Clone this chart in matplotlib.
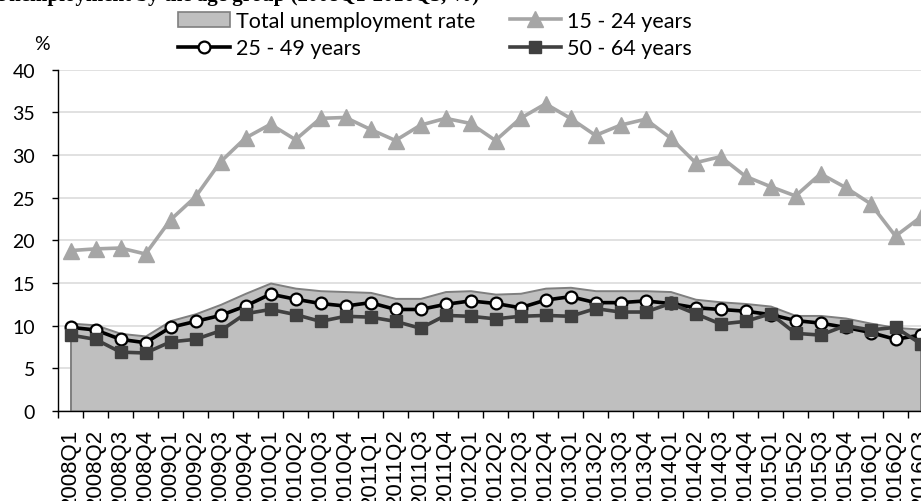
import matplotlib
matplotlib.use("Agg")
import matplotlib.pyplot as plt
from matplotlib.patches import Patch
from matplotlib.lines import Line2D

quarters = [f"{y}Q{q}" for y in range(2008, 2017) for q in range(1, 5)][:35]

total_rate = [10.3, 10.1, 9.1, 8.8, 10.6, 11.4, 12.5, 13.8, 15.0, 14.4,
              14.1, 14.0, 13.9, 13.2, 13.2, 14.0, 14.1, 13.7, 13.8, 14.4,
              14.5, 14.1, 14.1, 14.1, 14.0, 13.1, 12.8, 12.6, 12.3, 11.2,
              11.2, 10.9, 10.3, 9.8, 9.6]
age_15_24 = [18.8, 19.0, 19.1, 18.4, 22.4, 25.1, 29.2, 32.0, 33.6, 31.8,
             34.3, 34.4, 33.0, 31.7, 33.5, 34.3, 33.7, 31.7, 34.3, 36.0,
             34.3, 32.3, 33.5, 34.2, 32.0, 29.1, 29.8, 27.5, 26.3, 25.2,
             27.8, 26.2, 24.3, 20.5, 22.7]
age_25_49 = [9.8, 9.5, 8.4, 8.0, 9.8, 10.5, 11.2, 12.3, 13.7, 13.1,
             12.6, 12.3, 12.7, 11.9, 11.9, 12.5, 12.9, 12.6, 12.1, 13.0,
             13.4, 12.7, 12.7, 12.9, 12.6, 12.1, 11.9, 11.7, 11.3, 10.6,
             10.3, 9.8, 9.2, 8.4, 8.9]
age_50_64 = [8.9, 8.4, 6.9, 6.8, 8.1, 8.4, 9.4, 11.4, 11.9, 11.3,
             10.5, 11.1, 11.0, 10.5, 9.7, 11.2, 11.1, 10.8, 11.1, 11.2,
             11.1, 12.0, 11.6, 11.6, 12.6, 11.4, 10.2, 10.5, 11.4, 9.1,
             8.9, 10.0, 9.5, 9.8, 7.9]

y_ticks = list(range(0, 45, 5))

W, H = 921, 502
fig = plt.figure(figsize=(W / 100, H / 100), dpi=100)
# plot area runs past the right edge, so the last quarter sits on the border
ax = fig.add_axes([58 / W, 90 / H, 875 / W, 341.3 / H])

x = list(range(len(quarters)))

ax.fill_between(x, total_rate, 0, facecolor="#bfbfbf", edgecolor="#7f7f7f",
                linewidth=1.4, zorder=2)
ax.plot(x, age_15_24, color="#a6a6a6", lw=2.6, marker="^", ms=11,
        mfc="#a6a6a6", mec="#a6a6a6", zorder=3)
ax.plot(x, age_25_49, color="black", lw=2.6, marker="o", ms=8.5,
        mfc="white", mec="black", mew=1.6, zorder=4)
ax.plot(x, age_50_64, color="#404040", lw=2.6, marker="s", ms=8,
        mfc="#404040", mec="#404040", zorder=5)

ax.set_xlim(-0.5, len(quarters) - 0.5)
ax.set_ylim(0, 40)
ax.set_yticks(y_ticks)
ax.yaxis.grid(True, color="#d9d9d9", lw=1.1)
ax.set_axisbelow(True)

for side in ("top", "right"):
    ax.spines[side].set_visible(False)
ax.spines["left"].set_color("black")
ax.spines["bottom"].set_color("black")
ax.spines["left"].set_linewidth(1.0)
ax.spines["bottom"].set_linewidth(1.0)

ax.set_xticks(x)
ax.set_xticklabels(quarters, rotation=90, fontsize=16, family="Liberation Sans",
                   va="top")
ax.set_xticks([i - 0.5 for i in range(len(quarters) + 1)], minor=True)
ax.tick_params(axis="x", which="major", length=0, pad=12)
ax.tick_params(axis="x", which="minor", length=5, width=1, color="black",
               direction="out")
ax.tick_params(axis="y", length=4.5, width=1, color="black", pad=12,
               labelsize=14)
for lbl in ax.get_yticklabels():
    lbl.set_family("Lato")

fig.text(42 / W, 1 - 45 / H, "%", fontsize=14, family="Lato",
         ha="center", va="center")

# heading sits mostly above the top edge
fig.text(-6 / W, 1 - 1.5 / H, "Unemployment by the age group (2008Q1-2016Q3, %)",
         fontsize=15, family="Liberation Serif", fontweight="bold",
         ha="left", va="baseline")

handles = [
    Patch(facecolor="#bfbfbf", edgecolor="#7f7f7f", linewidth=1.2),
    Line2D([], [], color="black", lw=2.6, marker="o", ms=8.5, mfc="white",
           mec="black", mew=1.6),
    Line2D([], [], color="#a6a6a6", lw=2.6, marker="^", ms=11),
    Line2D([], [], color="#404040", lw=2.6, marker="s", ms=8),
]
labels = ["Total unemployment rate", "25 - 49 years", "15 - 24 years",
          "50 - 64 years"]
fig.legend(handles, labels, ncol=2, loc="upper left",
           bbox_to_anchor=(178 / W, 1 - 12 / H), frameon=False,
           prop={"family": "Lato", "size": 15.5}, handlelength=2.4,
           handleheight=0.7, handletextpad=0.28, columnspacing=1.6,
           labelspacing=0.33, borderaxespad=0, borderpad=0)

fig.savefig("out.png", dpi=100)
